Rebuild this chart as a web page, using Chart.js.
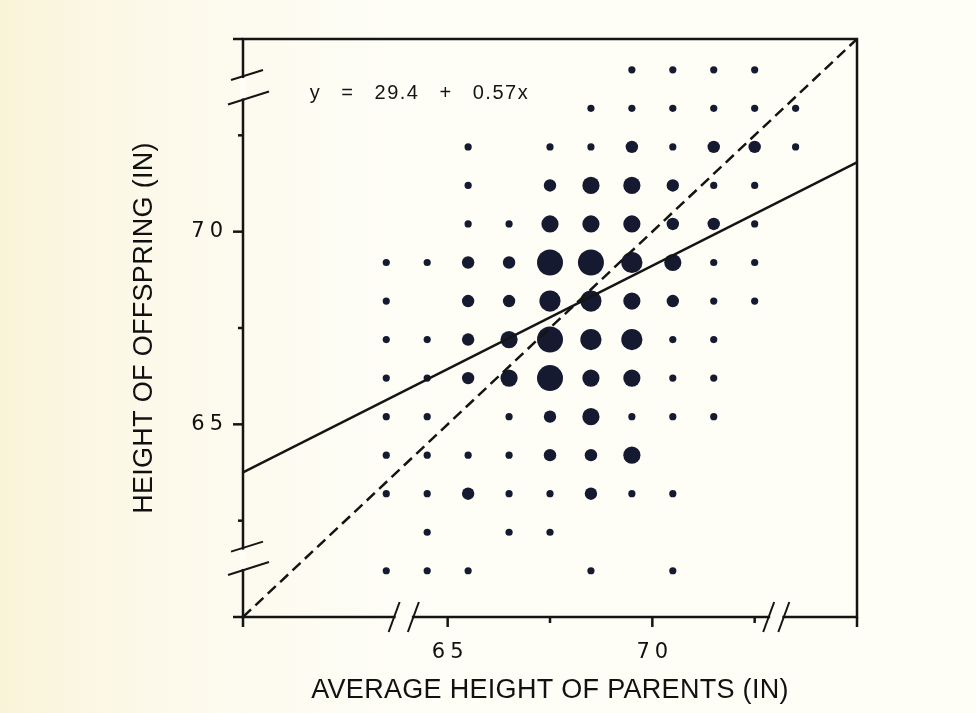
<!DOCTYPE html>
<html>
<head>
<meta charset="utf-8">
<script src="https://cdn.jsdelivr.net/npm/chart.js@4.4.1/dist/chart.umd.min.js"></script>
<style>
  html, body { margin: 0; padding: 0; background: #fefdf6; }
  #wrap { width: 976px; height: 713px; position: relative; }
</style>
</head>
<body>
<div id="wrap"><canvas id="galtonChart"></canvas></div>
<script>
// mid-parent height columns and offspring height rows
const parentHeights = [63.5, 64.5, 65.5, 66.5, 67.5, 68.5, 69.5, 70.5, 71.5, 72.5, 73.5];
const childHeights = [74.2, 73.2, 72.2, 71.2, 70.2, 69.2, 68.2, 67.2, 66.2, 65.2, 64.2, 63.2, 62.2, 61.2];

// number of children in each cell (0 = no dot)
const row742 = [0, 0, 0, 0, 0, 0, 5, 3, 2, 4, 0];
const row732 = [0, 0, 0, 0, 0, 3, 4, 3, 2, 2, 3];
const row722 = [0, 0, 1, 0, 4, 4, 11, 4, 9, 7, 1];
const row712 = [0, 0, 2, 0, 11, 18, 20, 7, 4, 2, 0];
const row702 = [0, 0, 5, 4, 19, 21, 25, 14, 10, 1, 0];
const row692 = [1, 2, 7, 13, 38, 48, 33, 18, 5, 2, 0];
const row682 = [1, 0, 7, 14, 28, 34, 20, 12, 3, 1, 0];
const row672 = [2, 5, 11, 17, 38, 31, 27, 3, 4, 0, 0];
const row662 = [2, 5, 11, 17, 36, 25, 17, 1, 3, 0, 0];
const row652 = [1, 1, 0, 2, 15, 16, 4, 1, 1, 0, 0];
const row642 = [4, 4, 5, 5, 14, 11, 16, 0, 0, 0, 0];
const row632 = [2, 4, 9, 3, 5, 7, 1, 1, 0, 0, 0];
const row622 = [0, 1, 0, 3, 3, 0, 0, 0, 0, 0, 0];
const row612 = [1, 1, 1, 0, 0, 1, 0, 1, 0, 0, 0];
const countRows = [row742, row732, row722, row712, row702, row692, row682,
                   row672, row662, row652, row642, row632, row622, row612];

// fitted line (read at the axis ends) and y = x reference
const regressionLine = [{ x: 60, y: 63.75 }, { x: 75, y: 71.8 }];
const equalityLine = [{ x: 60, y: 60 }, { x: 75, y: 75 }];

const xTickLabels = [65, 70];
const yTickLabels = [65, 70];
const equationText = 'y = 29.4 + 0.57x';

const BG = '#fefdf6';
const INK = '#141414';
const DOT = '#161a30';
const FONT = '"Liberation Sans", Arial, sans-serif';
const TICK_FONT = '"DejaVu Sans", sans-serif';
const TICK_SPACING = 5; // tick label digits are wide and spread out

// dot sizes come in a few classes
function dotRadius(count) {
  if (count <= 5) return 3.6;
  if (count <= 15) return 6.2;
  if (count <= 25) return 8.6;
  if (count <= 35) return 10.6;
  return 13;
}

const bubbles = [];
countRows.forEach((row, i) => {
  row.forEach((n, j) => {
    if (n > 0) bubbles.push({ x: parentHeights[j], y: childHeights[i], r: dotRadius(n) });
  });
});

const decorPlugin = {
  id: 'decor',
  beforeDraw(chart) {
    const c = chart.ctx;
    const g = c.createLinearGradient(0, 0, 976, 0);
    g.addColorStop(0, '#f9f3d8');
    g.addColorStop(0.15, '#fcf9ea');
    g.addColorStop(0.4, BG);
    g.addColorStop(1, BG);
    c.save();
    c.fillStyle = g;
    c.fillRect(0, 0, chart.width, chart.height);
    c.restore();
    c.letterSpacing = '0.3px'; // axis titles
  },
  afterDatasetsDraw(chart) {
    // tick labels are drawn after the datasets (ticks.z = 1)
    chart.ctx.letterSpacing = TICK_SPACING + 'px';
  },
  afterDraw(chart) {
    const c = chart.ctx;
    c.letterSpacing = '0px';
    const a = chart.chartArea;
    const xs = chart.scales.x;
    const ys = chart.scales.y;
    c.save();
    c.strokeStyle = INK;
    c.lineCap = 'butt';

    // frame
    c.lineWidth = 2.5;
    c.strokeRect(a.left, a.top, a.right - a.left, a.bottom - a.top);

    // tick marks, outward (none at 62.5 on the x axis)
    xs.ticks.forEach(t => {
      if (t.value === 62.5) return;
      const px = xs.getPixelForValue(t.value);
      const len = t.value % 5 === 0 ? 10 : 6;
      c.beginPath(); c.moveTo(px, a.bottom); c.lineTo(px, a.bottom + len); c.stroke();
    });
    ys.ticks.forEach(t => {
      const py = ys.getPixelForValue(t.value);
      const len = t.value % 5 === 0 ? 10 : 5;
      c.beginPath(); c.moveTo(a.left, py); c.lineTo(a.left - len, py); c.stroke();
    });

    // axis breaks
    const yBreaks = [[74.04, 73.43], [61.8, 61.22]];
    const xBreaks = [[63.68, 64.15], [72.83, 73.2]];
    c.fillStyle = BG;
    c.lineWidth = 2;
    yBreaks.forEach(([hi, lo]) => {
      const p1 = ys.getPixelForValue(hi), p2 = ys.getPixelForValue(lo);
      c.fillRect(a.left - 3, p1 + 2, 6, p2 - p1 - 3);
      [p1, p2].forEach((p, k) => {
        c.beginPath();
        c.moveTo(a.left - 12 - k * 3, p + 4 + k);
        c.lineTo(a.left + 20 + k * 6, p - 6 - k * 2);
        c.stroke();
      });
    });
    xBreaks.forEach(([lo, hi]) => {
      const p1 = xs.getPixelForValue(lo), p2 = xs.getPixelForValue(hi);
      c.fillRect(p1 + 2, a.bottom - 3, p2 - p1 - 3, 6);
      [p1, p2].forEach(p => {
        c.beginPath();
        c.moveTo(p - 5, a.bottom + 15);
        c.lineTo(p + 6, a.bottom - 15);
        c.stroke();
      });
    });

    // equation
    c.fillStyle = INK;
    c.font = '20px ' + FONT;
    c.textBaseline = 'middle';
    c.textAlign = 'left';
    c.letterSpacing = '1.5px';
    c.wordSpacing = '13px';
    c.fillText(equationText, xs.getPixelForValue(61.63), ys.getPixelForValue(73.58));
    c.restore();
  }
};

const ctx = document.getElementById('galtonChart').getContext('2d');
const galtonChart = new Chart(ctx, {
  type: 'bubble',
  data: {
    datasets: [
      {
        label: 'Families',
        data: bubbles,
        backgroundColor: DOT,
        borderWidth: 0,
        hoverRadius: 0,
        order: 2,
      },
      {
        type: 'line',
        label: 'Regression',
        data: regressionLine,
        borderColor: INK,
        borderWidth: 2.5,
        pointRadius: 0,
        fill: false,
        order: 1,
      },
      {
        type: 'line',
        label: 'y = x',
        data: equalityLine,
        borderColor: INK,
        borderWidth: 2.5,
        borderDash: [11, 6],
        pointRadius: 0,
        fill: false,
        order: 0,
      },
    ],
  },
  options: {
    responsive: true,
    maintainAspectRatio: false,
    animation: false,
    events: [],
    layout: { padding: { left: 0, top: 39, right: 119, bottom: 0 } },
    plugins: {
      legend: { display: false },
      tooltip: { enabled: false },
    },
    scales: {
      x: {
        type: 'linear',
        min: 60,
        max: 75,
        afterFit: s => { s.height = 96; },
        grid: { display: false, drawTicks: false },
        border: { display: false },
        ticks: {
          z: 1,
          stepSize: 2.5,
          padding: 23,
          labelOffset: TICK_SPACING / 2,
          color: '#111',
          font: { family: TICK_FONT, size: 21 },
          callback: v => (xTickLabels.includes(v) ? String(v) : ''),
        },
        title: {
          display: true,
          text: 'AVERAGE HEIGHT OF PARENTS (IN)',
          color: '#111',
          font: { family: FONT, size: 27 },
          padding: { top: 0, bottom: 6 },
        },
      },
      y: {
        type: 'linear',
        min: 60,
        max: 75,
        afterFit: s => { s.width = 243; },
        grid: { display: false, drawTicks: false },
        border: { display: false },
        ticks: {
          z: 1,
          stepSize: 2.5,
          padding: 20 - TICK_SPACING,
          color: '#111',
          font: { family: TICK_FONT, size: 21 },
          callback: v => (yTickLabels.includes(v) ? String(v) : ''),
        },
        title: {
          display: true,
          text: 'HEIGHT OF OFFSPRING (IN)',
          color: '#111',
          font: { family: FONT, size: 27 },
          padding: { top: 128, bottom: 0 },
        },
      },
    },
  },
  plugins: [decorPlugin],
});
</script>
</body>
</html>
